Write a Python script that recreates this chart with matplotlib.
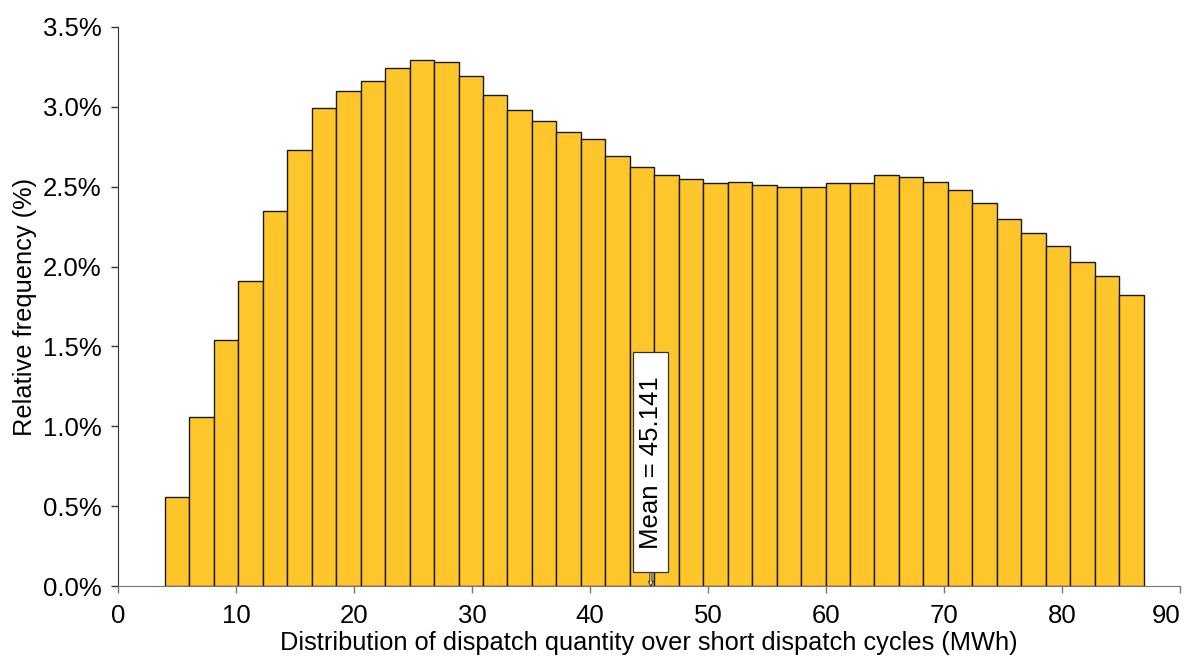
import matplotlib
matplotlib.use("Agg")
import matplotlib.pyplot as plt
from matplotlib.patches import Rectangle
from matplotlib.ticker import FuncFormatter

plt.rcParams['font.family'] = ['Liberation Sans', 'DejaVu Sans']

# histogram: 40 bins, left edge and width in MWh
bin_start = 3.95
bin_width = 2.074
freq_pct = [0.56, 1.06, 1.54, 1.91, 2.35, 2.73, 2.99, 3.10, 3.16, 3.24,
            3.29, 3.28, 3.19, 3.07, 2.98, 2.91, 2.84, 2.80, 2.69, 2.62,
            2.57, 2.55, 2.52, 2.53, 2.51, 2.50, 2.50, 2.52, 2.52, 2.57,
            2.56, 2.53, 2.48, 2.40, 2.30, 2.21, 2.13, 2.03, 1.94, 1.82]
mean_val = 45.141
x_ticks = [0, 10, 20, 30, 40, 50, 60, 70, 80, 90]
y_ticks = [0.0, 0.5, 1.0, 1.5, 2.0, 2.5, 3.0, 3.5]

lefts = [bin_start + i * bin_width for i in range(len(freq_pct))]
fs = 18.5

fig = plt.figure(figsize=(11.85, 6.57), dpi=100)
ax = fig.add_axes([0.0999, 0.1076, 0.8959, 0.8518])

ax.bar(lefts, freq_pct, width=bin_width, align='edge',
       color='#FFC62C', edgecolor='#1a1a1a', linewidth=1.0)

ax.set_xlim(0, 90)
ax.set_ylim(0, 3.5)
ax.set_xticks(x_ticks)
ax.set_yticks(y_ticks)
ax.yaxis.set_major_formatter(FuncFormatter(lambda v, p: f'{v:.1f}%'))

for s in ['top', 'right']:
    ax.spines[s].set_visible(False)
ax.spines['left'].set_color('#333333')
ax.spines['bottom'].set_color('#777777')
ax.tick_params(axis='y', length=5, width=1, color='#333333', pad=7, labelsize=fs)
ax.tick_params(axis='x', length=5, width=1, color='#777777', pad=8, labelsize=fs)
# last label pulled inside the figure like the original
ax.get_xticklabels()[-1].set_horizontalalignment('right')
ax.get_xticklabels()[-1].set_x(90.2)

ax.set_xlabel('Distribution of dispatch quantity over short dispatch cycles (MWh)',
              fontsize=18.3, labelpad=2)
ax.set_ylabel('Relative frequency (%)', fontsize=18.3, labelpad=4)

# mean marker: boxed vertical label with a small arrow down to the axis
box_lo, box_hi, box_w = 0.088, 1.464, 2.95
ax.annotate('', xy=(mean_val, 0), xytext=(mean_val, box_lo),
            arrowprops=dict(arrowstyle='simple,head_length=0.35,head_width=0.35,tail_width=0.15',
                            fc='white', ec='#333333', lw=0.8, shrinkA=0, shrinkB=0))
ax.add_patch(Rectangle((mean_val - box_w / 2, box_lo), box_w, box_hi - box_lo,
                       fc='white', ec='#333333', lw=0.9, zorder=3))
ax.text(mean_val, (box_lo + box_hi) / 2, f'Mean = {mean_val:.3f}', rotation=90,
        ha='center', va='center', fontsize=fs, zorder=4)

fig.savefig('out.png', dpi=100)
